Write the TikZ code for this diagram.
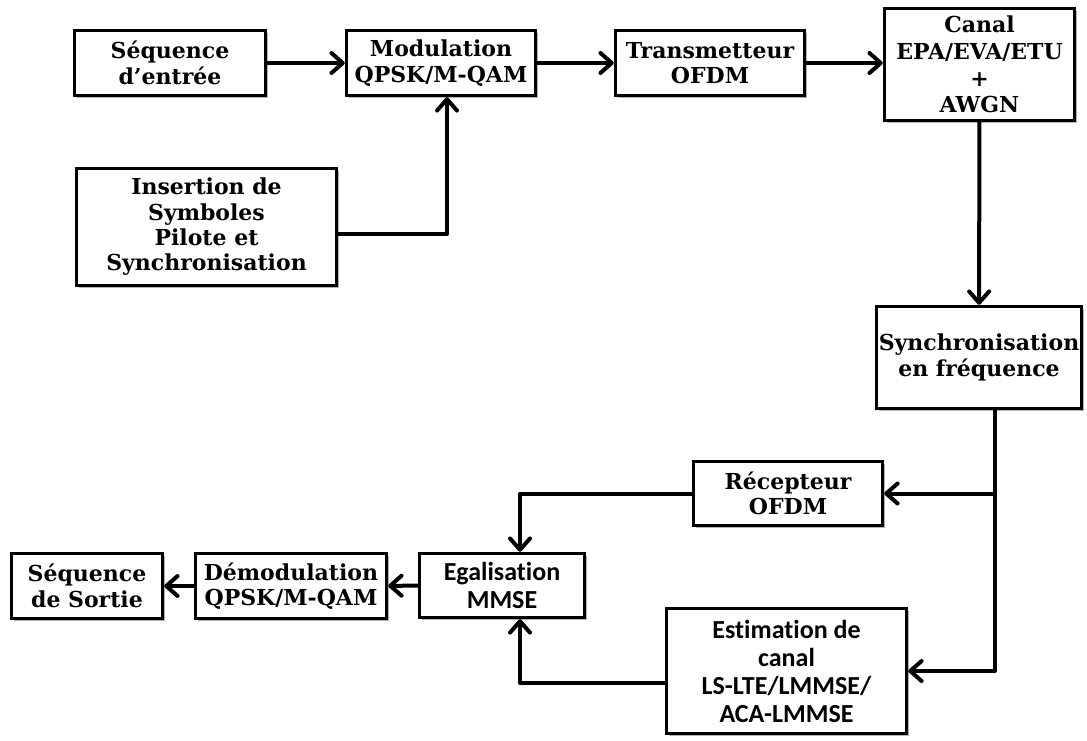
\documentclass[tikz,border=0pt]{standalone}
\usepackage{fontspec}
\setmainfont{DejaVu Serif}
\newfontfamily\calib{Carlito}[Ligatures=NoCommon]
\usetikzlibrary{arrows.meta,shadows}
\begin{document}
\begin{tikzpicture}[x=0.75pt,y=-0.75pt,
  box/.style={draw=black,line width=2.6pt,fill=white,align=center,inner sep=0pt,
     font=\bfseries\fontsize{16.5}{19}\selectfont,
     drop shadow={shadow xshift=2.2pt,shadow yshift=-2.2pt,opacity=0.3,fill=black}},
  sbox/.style={box,font=\calib\bfseries\fontsize{19.5}{21}\selectfont},
  ln/.style={line width=3pt,line join=round},
  arr/.style={ln,-{Straight Barb[length=8.5pt,width=15pt,line cap=round,line join=round]}}]
\fill[white] (0,0) rectangle (1087,740);
\useasboundingbox (0,0) rectangle (1087,740);

\node[box,minimum width=143.25pt,minimum height=48.75pt] (seqin) at (170,63) {Séquence\\d’entrée};
\node[box,minimum width=141.75pt,minimum height=48.75pt] (mod) at (441,63) {Modulation\\QPSK/M-QAM};
\node[box,minimum width=141.75pt,minimum height=48.75pt] (trans) at (710,63) {Transmetteur\\OFDM};
\node[box,minimum width=142.5pt,minimum height=84pt,font=\bfseries\fontsize{16.5}{20}\selectfont] (canal) at (979.5,64.5) {Canal\\EPA/EVA/ETU\\+\\AWGN};
\node[box,minimum width=195pt,minimum height=87.75pt] (ins) at (206.5,227) {Insertion de\\Symboles\\Pilote et\\Synchronisation};
\node[box,minimum width=153.75pt,minimum height=76.5pt] (sync) at (979,357.5) {Synchronisation\\en fréquence};
\node[box,minimum width=141.75pt,minimum height=48pt] (recep) at (788,493.5) {Récepteur\\OFDM};
\node[sbox,minimum width=180pt,minimum height=93.75pt] (est) at (786.5,671) {Estimation de\\canal\\LS-LTE/LMMSE/\\ACA-LMMSE};
\node[sbox,minimum width=123.75pt,minimum height=48pt] (egal) at (502,585.5) {Egalisation\\MMSE};
\node[box,minimum width=143.25pt,minimum height=48.75pt] (demod) at (291,586) {Démodulation\\QPSK/M-QAM};
\node[box,minimum width=113.25pt,minimum height=48.75pt] (seqout) at (87,586) {Séquence\\de Sortie};

\coordinate (insout) at ([yshift=-5pt]ins.east);
\coordinate (split) at ([xshift=12pt]sync.south);
\coordinate (egin) at ([xshift=13.5pt]egal.north);
\coordinate (egin2) at ([xshift=13.5pt]egal.south);
\coordinate (estout) at ([yshift=-9pt]est.west);

\draw[arr] (seqin) -- (mod);
\draw[arr] (mod) -- (trans);
\draw[arr] (trans) -- (canal.west |- trans);
\draw[arr] (insout) -| ([xshift=4.5pt]mod.south);
\draw[arr] (canal) -- (sync);
\draw[arr] (split) |- (est.east);
\draw[arr] (split) |- (recep.east);
\draw[arr] (recep.west) -| (egin);
\draw[arr] (estout) -| (egin2);
\draw[arr] (egal) -- (demod);
\draw[arr] (demod) -- (seqout);
\end{tikzpicture}
\end{document}
